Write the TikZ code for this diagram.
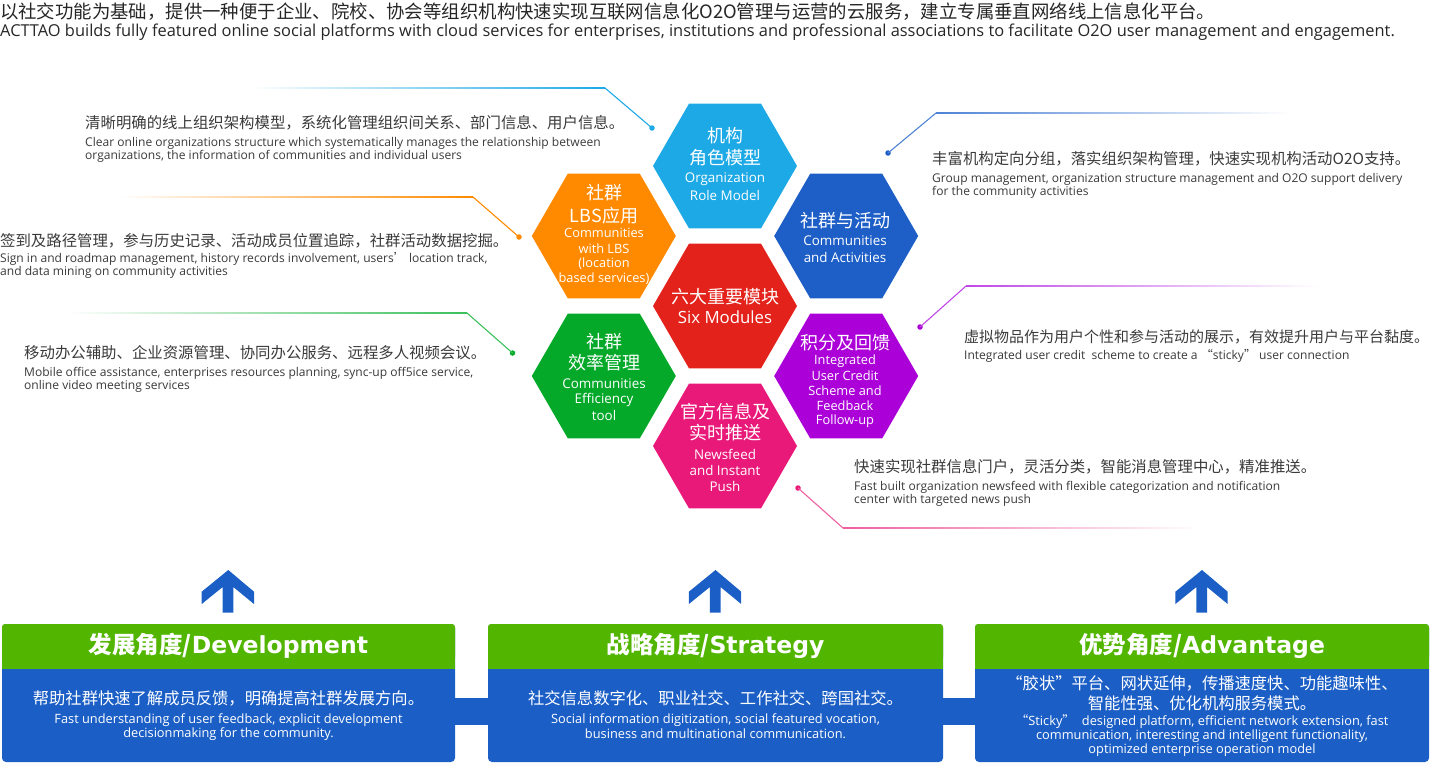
\documentclass[tikz,border=0pt]{standalone}
\usepackage{fontspec}
\setmainfont{Open Sans}
\newfontfamily\cjk{Noto Sans CJK SC}
\newfontfamily\dvs{DejaVu Sans}
\usetikzlibrary{shapes.geometric}
\definecolor{hcyan}{HTML}{1DA9E6}
\definecolor{horange}{HTML}{FF8A00}
\definecolor{hblue}{HTML}{1E5FC7}
\definecolor{hred}{HTML}{E3221B}
\definecolor{hgreen}{HTML}{05A92A}
\definecolor{hpurple}{HTML}{AC00D8}
\definecolor{hpink}{HTML}{E9197A}
\definecolor{lblue}{HTML}{4F83D6}
\definecolor{lpurple}{HTML}{C048E6}
\definecolor{lpink}{HTML}{EE5FA0}
\definecolor{lgreen}{HTML}{3CC05A}
\definecolor{bgreen}{HTML}{52B500}
\definecolor{bblue}{HTML}{1B5FC6}
\definecolor{txtc}{HTML}{3A3A3A}
\tikzset{
  x=1pt, y=-1pt,
  hex/.style={regular polygon, regular polygon sides=6, minimum size=144pt, inner sep=0pt, outer sep=0pt, draw=none, fill=#1},
  hz/.style={font=\cjk\fontsize{18}{20}\selectfont, text=white, inner sep=0pt},
  he/.style={font=\fontsize{13.4}{15}\selectfont, text=white, inner sep=0pt},
  hes/.style={font=\fontsize{12.8}{15}\selectfont, text=white, inner sep=0pt},
  cn/.style={font=\cjk\fontsize{15.4}{18}\selectfont, text=txtc, inner sep=0pt, anchor=west},
  en/.style={font=\fontsize{12.05}{13}\selectfont, text=txtc, inner sep=0pt, anchor=west},
  dotn/.style={circle, fill=#1, minimum size=5.5pt, inner sep=0pt},
  lead/.style={draw=#1, line width=1.1pt},
  bh/.style={font=\cjk\bfseries\fontsize{23.5}{26}\selectfont, text=white, inner sep=0pt},
  bz/.style={font=\cjk\fontsize{16.3}{18}\selectfont, text=white, inner sep=0pt},
  be/.style={font=\fontsize{12.8}{14}\selectfont, text=white, inner sep=0pt},
  uparrow/.pic={\fill[bblue] (0,0) -- (-26.6,21.7) -- (-26.6,34) -- (-5.6,17) -- (-5.6,42.7) -- (5,42.7) -- (5,17) -- (25.7,34) -- (25.7,21.7) -- cycle;}
}
\begin{document}
\begin{tikzpicture}
\useasboundingbox (0,0) rectangle (1430,763);
% top text
\node[font=\cjk\fontsize{18.4}{20}\selectfont, text=black!85, inner sep=0pt, anchor=west] (top1) at (0,12) {以社交功能为基础，提供一种便于企业、院校、协会等组织机构快速实现互联网信息化O2O管理与运营的云服务，建立专属垂直网络线上信息化平台。};
\node[font=\fontsize{16.4}{17}\selectfont, text=black!85, inner sep=0pt, anchor=west] (top2) at (0,32) {ACTTAO builds fully featured online social platforms with cloud services for enterprises, institutions and professional associations to facilitate O2O user management and engagement.};

% hexagons
\node[hex=hcyan] (org) at (725,166) {};
\node[hex=horange] (lbs) at (603.8,236) {};
\node[hex=hblue] (comm) at (846.2,236) {};
\node[hex=hred] (six) at (725,306) {};
\node[hex=hgreen] (eff) at (603.8,376) {};
\node[hex=hpurple] (cred) at (846.2,376) {};
\node[hex=hpink] (news) at (725,446) {};

\node[hz] (org1) at (725,136) {机构};
\node[hz] (org2) at (725,158) {角色模型};
\node[he] (org3) at (725,179) {Organization};
\node[he] (org4) at (725,195) {Role Model};

\node[hz] (lbs1) at (604,193) {社群};
\node[hz] (lbs2) at (604,216) {LBS应用};
\node[hes] (lbs3) at (604,233) {Communities};
\node[hes] (lbs4) at (604,249) {with LBS};
\node[hes] (lbs5) at (604,264) {(location};
\node[hes] (lbs6) at (604,279) {based services)};

\node[hz] (comm1) at (845,221) {社群与活动};
\node[he] (comm2) at (845,241) {Communities};
\node[he] (comm3) at (845,257) {and Activities};

\node[hz] (six1) at (725,297) {六大重要模块};
\node[font=\fontsize{16.8}{18}\selectfont, text=white, inner sep=0pt] (six2) at (725,317) {Six Modules};

\node[hz] (eff1) at (604,342) {社群};
\node[hz] (eff2) at (604,363) {效率管理};
\node[he] (eff3) at (604,384) {Communities};
\node[he] (eff4) at (604,400) {Efficiency};
\node[he] (eff5) at (604,415) {tool};

\node[hz] (cred1) at (845,343) {积分及回馈};
\node[hes] (cred2) at (845,361) {Integrated};
\node[hes] (cred3) at (845,376) {User Credit};
\node[hes] (cred4) at (845,391) {Scheme and};
\node[hes] (cred5) at (845,406) {Feedback};
\node[hes] (cred6) at (845,421) {Follow-up};

\node[hz] (news1) at (725,412) {官方信息及};
\node[hz] (news2) at (725,433) {实时推送};
\node[he] (news3) at (725,454) {Newsfeed};
\node[he] (news4) at (725,470) {and Instant};
\node[he] (news5) at (725,486) {Push};

% leader lines
\node[dotn=hcyan] (d1) at (652,128) {};
\coordinate (c1) at (605,88); \coordinate (e1) at (250,88);
\draw[lead=hcyan] (d1.center) -- (c1);
\shade[left color=white, right color=hcyan] ([yshift=0.55pt]e1) rectangle ([yshift=-0.55pt]c1);

\node[dotn=horange] (d2) at (519,237) {};
\coordinate (c2) at (473,197); \coordinate (e2) at (118,197);
\draw[lead=horange] (d2.center) -- (c2);
\shade[left color=white, right color=horange] ([yshift=0.55pt]e2) rectangle ([yshift=-0.55pt]c2);

\node[dotn=hgreen] (d3) at (512.5,353) {};
\coordinate (c3) at (467,313); \coordinate (e3) at (67,313);
\draw[lead=lgreen] (d3.center) -- (c3);
\shade[left color=white, right color=lgreen] ([yshift=0.55pt]e3) rectangle ([yshift=-0.55pt]c3);

\node[dotn=hblue] (d4) at (888,153) {};
\coordinate (c4) at (936,113); \coordinate (e4) at (1291,113);
\draw[lead=lblue] (d4.center) -- (c4);
\shade[left color=lblue, right color=white] ([yshift=0.55pt]c4) rectangle ([yshift=-0.55pt]e4);

\node[dotn=hpurple] (d5) at (920,327) {};
\coordinate (c5) at (966,286); \coordinate (e5) at (1319,286);
\draw[lead=lpurple] (d5.center) -- (c5);
\shade[left color=lpurple, right color=white] ([yshift=0.55pt]c5) rectangle ([yshift=-0.55pt]e5);

\node[dotn=hpink] (d6) at (798,488) {};
\coordinate (c6) at (843,528); \coordinate (e6) at (1200,528);
\draw[lead=lpink] (d6.center) -- (c6);
\shade[left color=lpink, right color=white] ([yshift=0.55pt]c6) rectangle ([yshift=-0.55pt]e6);

% annotations
\node[cn] (t1a) at (85,123) {清晰明确的线上组织架构模型，系统化管理组织间关系、部门信息、用户信息。};
\node[en] (t1b) at (85,143) {Clear online organizations structure which systematically manages the relationship between};
\node[en] (t1c) at (85,156) {organizations, the information of communities and individual users};

\node[cn] (t2a) at (0,241) {签到及路径管理，参与历史记录、活动成员位置追踪，社群活动数据挖掘。};
\node[en] (t2b) at (0,259) {Sign in and roadmap management, history records involvement, users{\cjk ’} location track,};
\node[en] (t2c) at (0,272) {and data mining on community activities};

\node[cn] (t3a) at (24,353) {移动办公辅助、企业资源管理、协同办公服务、远程多人视频会议。};
\node[en] (t3b) at (24,373) {Mobile office assistance, enterprises resources planning, sync-up off5ice service,};
\node[en] (t3c) at (24,386) {online video meeting services};

\node[cn] (t4a) at (932,159) {丰富机构定向分组，落实组织架构管理，快速实现机构活动O2O支持。};
\node[en] (t4b) at (932,179) {Group management, organization structure management and O2O support delivery};
\node[en] (t4c) at (932,192) {for the community activities};

\node[cn, font=\cjk\fontsize{15}{18}\selectfont] (t5a) at (964,337) {虚拟物品作为用户个性和参与活动的展示，有效提升用户与平台黏度。};
\node[en] (t5b) at (964,356) {Integrated user credit\ \ scheme to create a {\cjk “}sticky{\cjk ”} user connection};

\node[cn] (t6a) at (854,467) {快速实现社群信息门户，灵活分类，智能消息管理中心，精准推送。};
\node[en] (t6b) at (854,487) {Fast built organization newsfeed with flexible categorization and notification};
\node[en] (t6c) at (854,500) {center with targeted news push};

% arrows
\pic at (228.3,570) {uparrow};
\pic at (715.5,570) {uparrow};
\pic at (1202,570) {uparrow};

% connector bars
\fill[bblue] (454,698) rectangle (489,725);
\fill[bblue] (942,698) rectangle (976,725);

% boxes
\foreach \a/\b/\n in {2/455/1, 488/943/2, 975/1429/3}{
  \fill[bblue, rounded corners=4pt] (\a,624) rectangle (\b,762);
  \fill[bgreen, rounded corners=3pt] (\a,624) rectangle (\b,660);
  \fill[bgreen] (\a,650) rectangle (\b,669);
}
\node[bh] (b1h) at (228.5,646) {发展角度/{\dvs\bfseries Development}};
\node[bz] (b1z) at (228.5,698) {帮助社群快速了解成员反馈，明确提高社群发展方向。};
\node[be] (b1e1) at (228.5,720) {Fast understanding of user feedback, explicit development};
\node[be] (b1e2) at (228.5,734) {decisionmaking for the community.};

\node[bh] (b2h) at (715.5,646) {战略角度/{\dvs\bfseries Strategy}};
\node[bz] (b2z) at (715.5,698) {社交信息数字化、职业社交、工作社交、跨国社交。};
\node[be] (b2e1) at (715.5,720) {Social information digitization, social featured vocation,};
\node[be] (b2e2) at (715.5,734) {business and multinational communication.};

\node[bh] (b3h) at (1202,646) {优势角度/{\dvs\bfseries Advantage}};
\node[bz] (b3z1) at (1202,683) {“胶状”平台、网状延伸，传播速度快、功能趣味性、};
\node[bz] (b3z2) at (1202,703) {智能性强、优化机构服务模式。};
\node[be] (b3e1) at (1202,722) {{\cjk “}Sticky{\cjk ”}\ \ designed platform, efficient network extension, fast};
\node[be] (b3e2) at (1202,736) {communication, interesting and intelligent functionality,};
\node[be] (b3e3) at (1202,750) {optimized enterprise operation model};
\end{tikzpicture}
\end{document}
